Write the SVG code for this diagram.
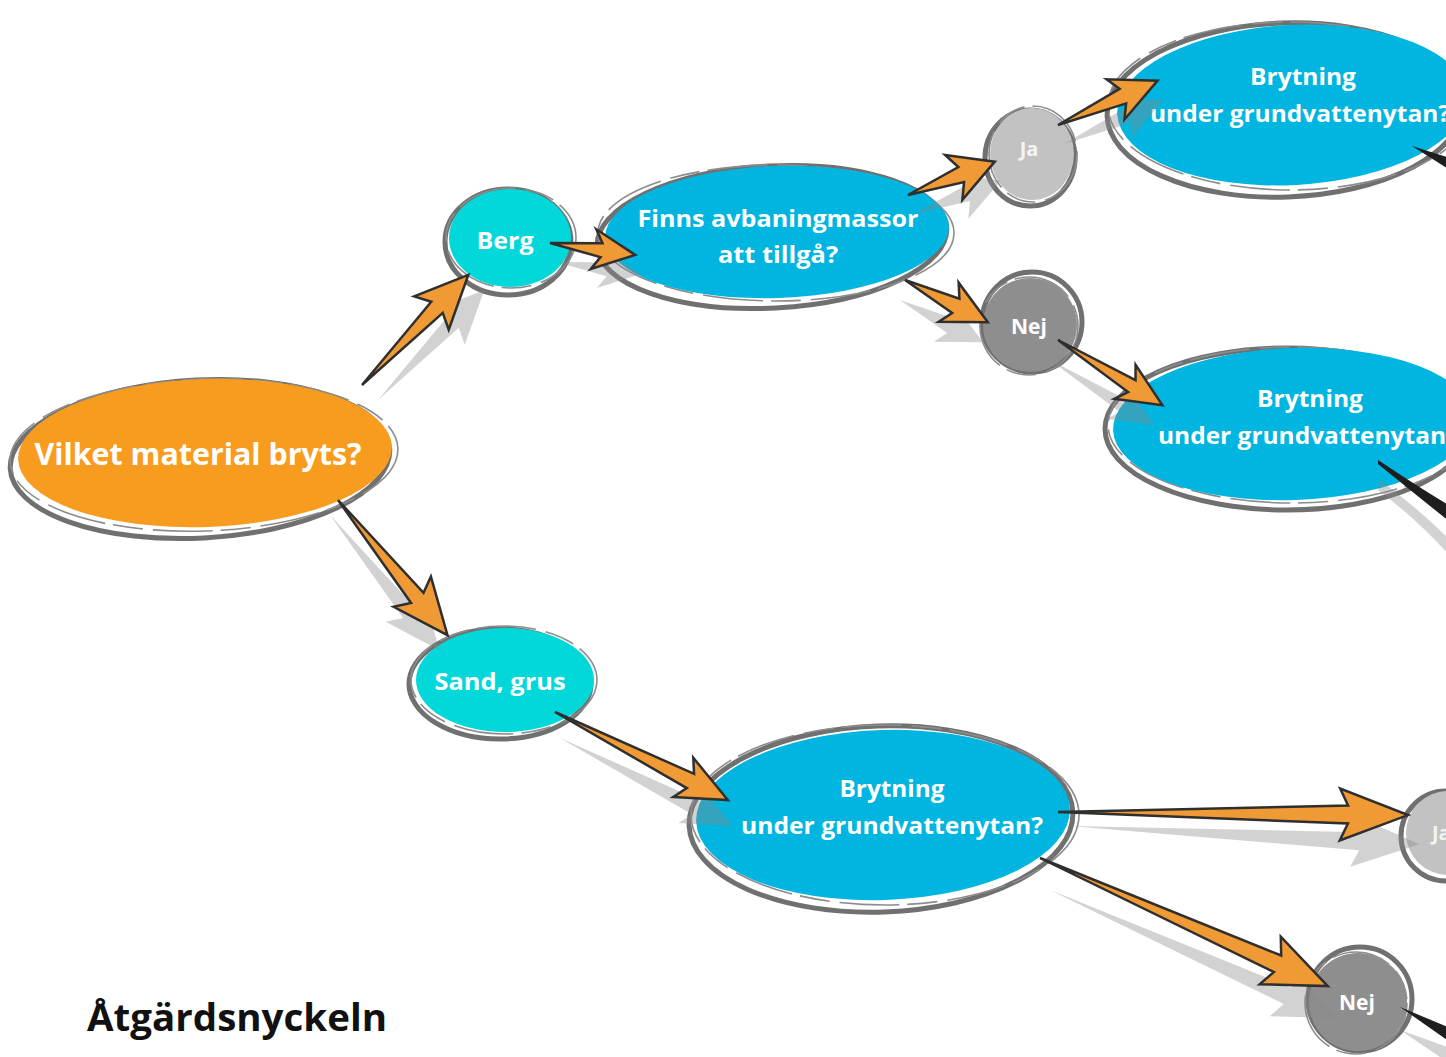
<svg xmlns="http://www.w3.org/2000/svg" xmlns:xlink="http://www.w3.org/1999/xlink" width="1446" height="1057" viewBox="0 0 1446 1057">
<style>
.lbl{font-family:"Open Sans","Liberation Sans",sans-serif;font-weight:700;fill:#ffffff;text-anchor:middle}
.ring{fill:none;stroke:#707070;stroke-width:5}
.ring2{fill:none;stroke:#8c8c8c;stroke-width:1.6;stroke-dasharray:60 10 30 8}
.orange{fill:#F89C1F}
.teal{fill:#02D8DA}
.blue{fill:#00B5DF}
.lgrey{fill:#C2C2C2}
.dgrey{fill:#8E8E8E}
.arrow{fill:#F09A36;stroke:#2f2f2f;stroke-width:2.5;stroke-linejoin:miter}
.shadow{fill:#8a8a8a;opacity:0.38}
.tail{fill:#1e1e1e}
</style>
<defs>
<path id="a1" d="M0,0 L108,-8 L100,-24 L153,0 L100,24 L108,8 Z"/>
<path id="a2" d="M0,0 L126,-8 L118,-24 L174,0 L118,24 L126,8 Z"/>
<path id="a3" d="M0,0 L52,-7 L44,-20 L86,0 L44,20 L52,7 Z"/>
<path id="a4" d="M0,0 L57,-8 L49,-24 L93,0 L49,24 L57,8 Z"/>
<path id="a5" d="M0,0 L57,-8 L49,-22 L93,0 L49,22 L57,8 Z"/>
<path id="a6" d="M0,0 L71,-8 L63,-22 L109,0 L63,22 L71,8 Z"/>
<path id="a7" d="M0,0 L87,-7 L79,-20 L123,0 L79,20 L87,7 Z"/>
<path id="a8" d="M0,0 L152,-8 L144,-22 L194,0 L144,22 L152,8 Z"/>
<path id="a9" d="M0,0 L290,-9 L282,-26 L350,0 L282,26 L290,9 Z"/>
<path id="a10" d="M0,0 L260,-9 L252,-26 L315,0 L252,26 L260,9 Z"/>
</defs>
<rect width="1446" height="1057" fill="#ffffff"/>

<g id="node-vilket">
<ellipse class="ring" cx="200" cy="459" rx="190" ry="79" transform="rotate(-3 200 459)"/>
<ellipse class="ring2" cx="204" cy="455" rx="194" ry="76" transform="rotate(-2 204 455)"/>
<ellipse class="orange" cx="205" cy="453" rx="187" ry="74" transform="rotate(-2 205 453)"/>
<text class="lbl" x="198" y="465" font-size="31" textLength="327" lengthAdjust="spacingAndGlyphs">Vilket material bryts?</text>
</g>

<g id="node-berg">
<ellipse class="ring" cx="508" cy="242" rx="63" ry="53"/>
<ellipse class="ring2" cx="511" cy="238" rx="65" ry="50"/>
<ellipse class="teal" cx="510" cy="238" rx="61" ry="49"/>
<text class="lbl" x="505" y="249" font-size="24" textLength="57" lengthAdjust="spacingAndGlyphs">Berg</text>
</g>

<g id="node-finns">
<ellipse class="ring" cx="772" cy="237" rx="175" ry="71" transform="rotate(-3 772 237)"/>
<ellipse class="ring2" cx="776" cy="233" rx="178" ry="68"/>
<ellipse class="blue" cx="777" cy="232" rx="172" ry="66" transform="rotate(-2 777 232)"/>
<text class="lbl" x="778" y="227" font-size="24" textLength="281" lengthAdjust="spacingAndGlyphs">Finns avbaningmassor</text>
<text class="lbl" x="778" y="263" font-size="24" textLength="120" lengthAdjust="spacingAndGlyphs">att tillgå?</text>
</g>

<g id="node-ja1">
<ellipse class="ring" cx="1030" cy="158" rx="45" ry="48"/>
<ellipse class="ring2" cx="1033" cy="154" rx="44" ry="48"/>
<ellipse class="lgrey" cx="1032" cy="154" rx="42" ry="46"/>
<text class="lbl" x="1029" y="156" font-size="20" style="fill:#f4f4f4">Ja</text>
</g>

<g id="node-nej1">
<circle class="ring" cx="1032" cy="322" r="50"/>
<circle class="ring2" cx="1029" cy="326" r="49"/>
<circle class="dgrey" cx="1030" cy="325" r="47"/>
<text class="lbl" x="1029" y="334" font-size="21">Nej</text>
</g>

<g id="node-brytning1">
<ellipse class="ring" cx="1285" cy="110" rx="178" ry="87" transform="rotate(-2 1285 110)"/>
<ellipse class="ring2" cx="1290" cy="106" rx="182" ry="84"/>
<ellipse class="blue" cx="1292" cy="105" rx="175" ry="80" transform="rotate(-3 1292 105)"/>
<text class="lbl" x="1303" y="85" font-size="24" textLength="106" lengthAdjust="spacingAndGlyphs">Brytning</text>
<text class="lbl" x="1300" y="122" font-size="24" textLength="300" lengthAdjust="spacingAndGlyphs">under grundvattenytan?</text>
</g>

<g id="node-brytning2">
<ellipse class="ring" cx="1287" cy="429" rx="182" ry="81"/>
<ellipse class="ring2" cx="1292" cy="425" rx="184" ry="78"/>
<ellipse class="blue" cx="1293" cy="424" rx="180" ry="76" transform="rotate(-2 1293 424)"/>
<text class="lbl" x="1310" y="407" font-size="24" textLength="106" lengthAdjust="spacingAndGlyphs">Brytning</text>
<text class="lbl" x="1158" y="444" font-size="24" style="text-anchor:start" textLength="288" lengthAdjust="spacingAndGlyphs">under grundvattenytan</text>
</g>

<g id="node-sand">
<ellipse class="ring" cx="500" cy="684" rx="91" ry="55"/>
<ellipse class="ring2" cx="504" cy="680" rx="93" ry="54"/>
<ellipse class="teal" cx="505" cy="680" rx="89" ry="52"/>
<text class="lbl" x="500" y="690" font-size="24" textLength="131" lengthAdjust="spacingAndGlyphs">Sand, grus</text>
</g>

<g id="node-brytning3">
<ellipse class="ring" cx="881" cy="819" rx="192" ry="93" transform="rotate(-2 881 819)"/>
<ellipse class="ring2" cx="885" cy="815" rx="194" ry="90"/>
<ellipse class="blue" cx="883" cy="815" rx="187" ry="85" transform="rotate(-2 883 815)"/>
<text class="lbl" x="892" y="797" font-size="24" textLength="105" lengthAdjust="spacingAndGlyphs">Brytning</text>
<text class="lbl" x="892" y="834" font-size="24" textLength="302" lengthAdjust="spacingAndGlyphs">under grundvattenytan?</text>
</g>

<g id="node-ja2">
<circle class="ring" cx="1446" cy="836" r="45"/>
<circle class="lgrey" cx="1448" cy="833" r="42"/>
<text class="lbl" x="1432" y="840" font-size="20" style="text-anchor:start;fill:#f4f4f4">Ja</text>
</g>

<g id="node-nej2">
<circle class="ring" cx="1360" cy="999" r="52"/>
<circle class="ring2" cx="1356" cy="1003" r="51"/>
<circle class="dgrey" cx="1358" cy="1002" r="49"/>
<text class="lbl" x="1357" y="1010" font-size="21">Nej</text>
</g>

<g id="connectors">
<g id="shadows">
<use xlink:href="#a1" class="shadow" transform="translate(378,400) rotate(-46)"/>
<use xlink:href="#a2" class="shadow" transform="translate(330,515) rotate(51)"/>
<use xlink:href="#a3" class="shadow" transform="translate(556,262) rotate(8)"/>
<use xlink:href="#a4" class="shadow" transform="translate(914,214) rotate(-21)"/>
<use xlink:href="#a5" class="shadow" transform="translate(900,300) rotate(27)"/>
<use xlink:href="#a6" class="shadow" transform="translate(1064,144) rotate(-24)"/>
<use xlink:href="#a7" class="shadow" transform="translate(1050,360) rotate(32)"/>
<use xlink:href="#a8" class="shadow" transform="translate(560,738) rotate(27)"/>
<use xlink:href="#a9" class="shadow" transform="translate(1070,826) rotate(3)"/>
<use xlink:href="#a10" class="shadow" transform="translate(1050,890) rotate(24)"/>
<path class="shadow" d="M1380,480 Q1420,510 1450,540 L1450,556 Q1418,520 1378,490 Z"/>
<path class="shadow" d="M1400,1030 L1450,1048 L1450,1057 L1440,1057 Z"/>
</g>
<use xlink:href="#a1" class="arrow" transform="translate(362,385) rotate(-46)"/>
<use xlink:href="#a2" class="arrow" transform="translate(338,500) rotate(51)"/>
<use xlink:href="#a3" class="arrow" transform="translate(550,243) rotate(8)"/>
<use xlink:href="#a4" class="arrow" transform="translate(908,195) rotate(-21)"/>
<use xlink:href="#a5" class="arrow" transform="translate(905,280) rotate(27)"/>
<use xlink:href="#a6" class="arrow" transform="translate(1058,125) rotate(-24)"/>
<use xlink:href="#a7" class="arrow" transform="translate(1058,340) rotate(32)"/>
<use xlink:href="#a8" class="arrow" transform="translate(555,712) rotate(27)"/>
<use xlink:href="#a9" class="arrow" transform="translate(1058,812) rotate(0.5)"/>
<use xlink:href="#a10" class="arrow" transform="translate(1040,858) rotate(24)"/>
<path class="tail" d="M1412,146 L1450,158 L1450,170 Z"/>
<path class="tail" d="M1378,460 Q1420,488 1450,506 L1450,522 Q1415,494 1378,464 Z"/>
<path class="tail" d="M1400,1007 L1450,1028 L1450,1042 Z"/>
</g>

<text id="title" x="87" y="1031" font-family="Open Sans, Liberation Sans, sans-serif" font-weight="700" font-size="38" fill="#111111" textLength="300" lengthAdjust="spacingAndGlyphs">Åtgärdsnyckeln</text>
</svg>
